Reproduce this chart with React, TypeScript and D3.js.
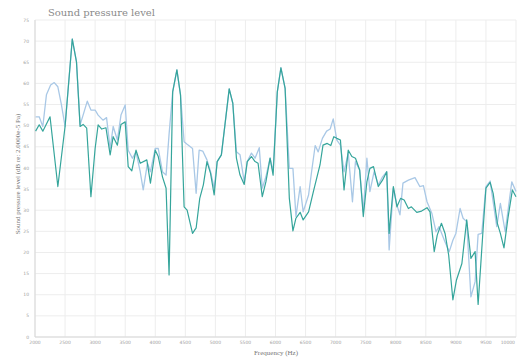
import * as d3 from "d3";
import React from "react";

// Lecturas del gráfico: frecuencia (Hz) y nivel (dB) de cada serie
const darkFreq = [
  2010, 2070, 2130, 2250, 2380, 2500, 2620, 2690, 2750, 2800, 2860, 2930, 3000, 3050, 3110, 3180,
  3250, 3300, 3370, 3430, 3500, 3550, 3610, 3680, 3750, 3860, 3920, 4000, 4050, 4120, 4180, 4230,
  4290, 4360, 4420, 4480, 4530, 4620, 4680, 4740, 4800, 4860, 4920, 4980, 5030, 5100, 5230, 5290,
  5350, 5410, 5480, 5530, 5600, 5660, 5710, 5780, 5840, 5910, 5960, 6030, 6090, 6160, 6230, 6290,
  6340, 6410, 6460, 6550, 6630, 6740, 6790, 6860, 6920, 6970, 7020, 7080, 7140, 7210, 7270, 7330,
  7400, 7460, 7520, 7570, 7630, 7710, 7780, 7850, 7890, 7960, 8020, 8080, 8140, 8210, 8260, 8350,
  8430, 8520, 8570, 8640, 8690, 8760, 8820, 8880, 8950, 9010, 9100, 9180, 9250, 9320, 9370, 9450,
  9500, 9570, 9620, 9690, 9740, 9800, 9870, 9940, 10000,
];
const darkDb = [
  48.7, 50.2, 48.7, 52.1, 35.6, 49.8, 70.5, 65.1, 49.8, 50.3, 49.4, 33.2, 44.6, 50.2, 49.2, 49.5,
  43.1, 47.4, 45.4, 50.3, 50.9, 40.3, 39.3, 44.2, 41.1, 41.9, 36.4, 44.2, 42.7, 37.9, 35.2, 14.7,
  58.0, 63.2, 57.3, 30.8, 30.0, 24.5, 25.8, 32.8, 36.0, 41.5, 38.7, 33.6, 41.5, 43.1, 58.7, 55.3,
  42.3, 38.3, 36.1, 41.5, 42.7, 41.5, 41.1, 33.2, 36.7, 42.3, 38.3, 58.0, 63.7, 58.8, 32.8, 25.1,
  28.1, 29.5, 27.7, 29.6, 34.4, 40.7, 45.4, 45.8, 45.3, 47.4, 47.0, 46.6, 34.8, 44.2, 42.7, 42.3,
  39.5, 28.5, 36.7, 39.9, 40.3, 35.6, 37.1, 39.1, 24.5, 35.6, 30.8, 32.8, 32.4, 30.4, 30.8, 29.5,
  29.8, 30.6, 29.6, 20.2, 24.1, 26.9, 24.5, 19.4, 8.8, 13.5, 17.4, 27.7, 18.6, 20.2, 7.7, 24.9,
  35.2, 36.6, 34.0, 26.9, 24.5, 21.1, 28.5, 34.8, 33.2,
];

const lightFreq = [
  2010, 2070, 2130, 2190, 2260, 2320, 2380, 2440, 2500, 2620, 2690, 2750, 2800, 2870, 2930, 3000,
  3050, 3130, 3190, 3250, 3300, 3370, 3430, 3500, 3550, 3620, 3680, 3750, 3800, 3870, 3920, 4000,
  4050, 4120, 4180, 4230, 4290, 4360, 4420, 4480, 4530, 4620, 4680, 4730, 4790, 4860, 4920, 4980,
  5030, 5100, 5230, 5290, 5350, 5410, 5480, 5530, 5600, 5660, 5730, 5780, 5840, 5910, 5960, 6030,
  6090, 6160, 6230, 6290, 6340, 6410, 6460, 6550, 6600, 6660, 6710, 6780, 6850, 6910, 6960, 7020,
  7080, 7140, 7210, 7280, 7330, 7400, 7460, 7520, 7570, 7640, 7710, 7780, 7850, 7890, 7960, 8020,
  8070, 8120, 8210, 8320, 8400, 8460, 8520, 8600, 8670, 8720, 8820, 8890, 8950, 9000, 9070, 9120,
  9180, 9250, 9320, 9370, 9430, 9500, 9570, 9680, 9740, 9820, 9930, 10000,
];
const lightDb = [
  52.1, 52.1, 49.8, 57.3, 59.6, 60.2, 59.2, 54.9, 49.8, 70.5, 65.1, 50.2, 52.5, 55.8, 53.7, 53.7,
  52.5, 51.3, 51.9, 44.6, 49.8, 46.6, 52.5, 54.9, 44.2, 42.3, 43.8, 39.1, 34.8, 41.1, 39.1, 44.6,
  44.6, 39.1, 38.3, 48.0, 58.0, 63.2, 57.3, 46.2, 45.6, 44.6, 34.0, 44.2, 44.0, 41.9, 39.1, 35.2,
  41.5, 43.1, 58.7, 55.3, 43.8, 43.1, 36.7, 41.5, 43.5, 42.3, 44.8, 35.2, 37.9, 42.3, 39.1, 58.0,
  63.7, 58.8, 39.9, 39.9, 28.5, 35.6, 29.6, 33.6, 39.1, 45.3, 43.8, 47.0, 48.7, 49.2, 51.6, 46.6,
  45.4, 39.1, 43.5, 32.0, 41.5, 39.5, 29.6, 42.3, 34.4, 39.1, 36.0, 37.9, 39.1, 20.6, 35.2, 31.2,
  28.9, 36.4, 37.1, 37.7, 35.6, 35.8, 32.0, 29.3, 24.9, 26.1, 22.5, 20.2, 22.9, 24.5, 30.4, 28.1,
  27.3, 9.5, 13.1, 24.3, 24.5, 35.6, 36.9, 26.1, 31.6, 24.9, 36.7, 34.4,
];

const xTicks = d3.range(2000, 10001, 500);
const yTicks = d3.range(0, 76, 5);

const width = 517;
const height = 358;
const margin = { top: 20, right: 1, bottom: 21, left: 35 };

export default function App() {
  const x = d3.scaleLinear().domain([2000, 10000]).range([margin.left, width - margin.right]);
  const y = d3.scaleLinear().domain([0, 75]).range([height - margin.bottom, margin.top]);

  const line = d3
    .line<[number, number]>()
    .x((d) => x(d[0]))
    .y((d) => y(d[1]));

  const dark = darkFreq.map((f, i) => [f, darkDb[i]] as [number, number]);
  const light = lightFreq.map((f, i) => [f, lightDb[i]] as [number, number]);

  const x0 = margin.left;
  const x1 = width - margin.right;
  const y0 = height - margin.bottom;
  const y1 = margin.top;

  return (
    <svg
      width={width}
      height={height}
      style={{ position: "absolute", left: 0, top: 0, background: "#fff" }}
    >
      <text x={48} y={16} fontFamily="DejaVu Serif" fontSize={10} fill="#8a8a8a">
        Sound pressure level
      </text>

      {/* rejilla */}
      {xTicks.map((t) => (
        <line key={"gx" + t} x1={x(t)} x2={x(t)} y1={y1} y2={y0} stroke="#ededed" strokeWidth={1} />
      ))}
      {yTicks.map((t) => (
        <line key={"gy" + t} x1={x0} x2={x1} y1={y(t)} y2={y(t)} stroke="#ededed" strokeWidth={1} />
      ))}
      <line x1={x0} x2={x0} y1={y1} y2={y0} stroke="#d8d8d8" />
      <line x1={x0} x2={x1} y1={y0} y2={y0} stroke="#d8d8d8" />

      {/* etiquetas de los ejes */}
      {yTicks.map((t) => (
        <text
          key={"ty" + t}
          x={29}
          y={y(t)}
          dy="0.35em"
          textAnchor="end"
          fontFamily="DejaVu Sans"
          fontSize={4.5}
          fill="#a0a0a0"
        >
          {t}
        </text>
      ))}
      {xTicks.map((t, i) => (
        <text
          key={"tx" + t}
          x={i === xTicks.length - 1 ? x1 - 1 : x(t)}
          y={344}
          textAnchor={i === xTicks.length - 1 ? "end" : "middle"}
          fontFamily="DejaVu Sans"
          fontSize={4.5}
          fill="#a0a0a0"
        >
          {t}
        </text>
      ))}

      <text
        x={276}
        y={355}
        textAnchor="middle"
        fontFamily="Liberation Serif"
        fontSize={7}
        fill="#777"
      >
        Frequency (Hz)
      </text>
      <text
        transform={`translate(20, 174) rotate(-90)`}
        textAnchor="middle"
        fontFamily="Liberation Serif"
        fontSize={7}
        fill="#777"
      >
        Sound pressure level (dB re: 2.0000e-5 Pa)
      </text>

      {/* series */}
      <path d={line(light) ?? ""} fill="none" stroke="#a9c8e6" strokeWidth={1.3} strokeLinejoin="round" />
      <path d={line(dark) ?? ""} fill="none" stroke="#35a59b" strokeWidth={1.2} strokeLinejoin="round" />
    </svg>
  );
}
